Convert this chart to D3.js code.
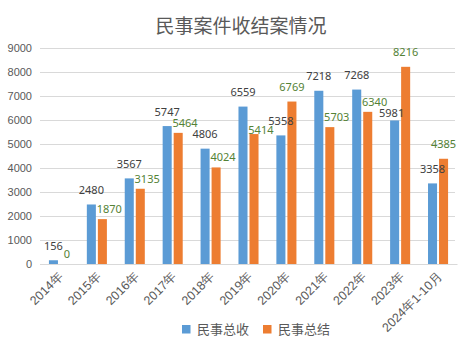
<!DOCTYPE html>
<html><head><meta charset="utf-8">
<script src="https://cdn.jsdelivr.net/npm/d3@7"></script>
<style>
html,body{margin:0;padding:0;background:#fff;}
svg{display:block;font-family:"Noto Sans","Noto Sans CJK SC",sans-serif;}
</style></head>
<body>
<svg id="chart" width="471" height="345"></svg>
<script>
const categories = ["2014年","2015年","2016年","2017年","2018年","2019年","2020年","2021年","2022年","2023年","2024年1-10月"];
const seriesNames = ["民事总收","民事总结"];
const received = [156,2480,3567,5747,4806,6559,5358,7218,7268,5981,3358];
const concluded = [0,1870,3135,5464,4024,5414,6769,5703,6340,8216,4385];
const yTicks = [0,1000,2000,3000,4000,5000,6000,7000,8000,9000];
const title = "民事案件收结案情况";

const colors = ["#5B9BD5","#ED7D31"];
const labelColors = ["#404040","#548235"];
const seriesData = [received, concluded];

const svg = d3.select("#chart");
const W = 471, H = 345;
svg.append("rect").attr("width",W).attr("height",H).attr("fill","#fff");

const y = d3.scaleLinear().domain([0,9000]).range([264,48]);
const x0 = d3.scaleBand().domain(categories).range([40,457]).paddingInner(0).paddingOuter(0);
const x1 = d3.scaleBand().domain(seriesNames).range([0,x0.bandwidth()]).paddingInner(0.18).paddingOuter(0.81);

// title
svg.append("text").attr("x",241).attr("y",33).attr("text-anchor","middle")
  .attr("font-size",19).attr("fill","#595959").attr("font-family","'Noto Sans CJK SC',sans-serif").text(title);

// gridlines
const yAxis = d3.axisLeft(y).tickValues(yTicks).tickSize(-(455-40)).tickPadding(8).tickFormat(d3.format("d"));
const gy = svg.append("g").attr("transform","translate(40,0)").call(yAxis);
gy.select(".domain").remove();
gy.selectAll(".tick line").attr("stroke","#d9d9d9").attr("stroke-width",1);
gy.selectAll(".tick text").attr("fill","#595959").attr("font-size",11).attr("x",-8);

// bars
seriesData.forEach((vals,si)=>{
  svg.append("g").selectAll("rect").data(vals).enter().append("rect")
    .attr("x",(d,i)=>x0(categories[i])+x1(seriesNames[si]))
    .attr("y",d=>y(d))
    .attr("width",x1.bandwidth())
    .attr("height",d=>y(0)-y(d))
    .attr("fill",colors[si]);
});

// data labels: simple placement with collision nudging
const FS = 11, CW = 6.2, HALF = 4.5;
const mkBox = (cx,cy,w,h)=>{ h = h||HALF; return {x0:cx-w/2,x1:cx+w/2,y0:cy-h,y1:cy+h}; };
const hit = (b,list)=>list.some(p => b.x0 < p.x1 && b.x1 > p.x0 && b.y0 < p.y1 && b.y1 > p.y0);

// 1. first series preferred positions
const blue = received.map((d,i)=>{
  const bx = x0(categories[i])+x1(seriesNames[0]);
  const w = String(d).length*CW;
  const cx = bx + x1.bandwidth()/2, cy = y(d) - 14.5;
  return {v:d, si:0, cx, cy, w, box:mkBox(cx,cy,w)};
});
// 2. second series initial positions
const orange = concluded.map((d,i)=>{
  const bx = x0(categories[i])+x1(seriesNames[1]);
  const w = String(d).length*CW;
  let cx = bx + x1.bandwidth()/2, cy = y(d) - 14.5;
  const side = d < received[i];
  if (side) {
    cx = bx - 1 + w/2; cy = y(d) - 10;
    if (hit(mkBox(cx,cy,w), [blue[i].box])) cx = blue[i].box.x1 + 1 + w/2;
  }
  return {v:d, si:1, cx, cy, w, side, box:mkBox(cx,cy,w)};
});
// 3. first-series labels nudged down-left if they hit a second-series label
const oBoxes = orange.map(o=>o.box);
blue.forEach(b=>{
  if (hit(b.box,oBoxes)) {
    let k = 1, ok = false;
    const nx = b.cx - 3;
    while (k <= 10) { if (!hit(mkBox(nx,b.cy+k,b.w,6),oBoxes)) { ok = true; break; } k++; }
    if (ok) { b.cx = nx; b.cy += k; b.box = mkBox(b.cx,b.cy,b.w); }
  }
});
// 4. second-series side labels nudged down if still colliding
const bBoxes = blue.map(b=>b.box);
orange.forEach(o=>{
  if (!o.side) return;
  let k = 0;
  while (k < 6 && hit(mkBox(o.cx,o.cy+k,o.w), bBoxes)) k++;
  o.cy += k; o.box = mkBox(o.cx,o.cy,o.w);
});

const labels = blue.concat(orange);
svg.append("g").selectAll("text").data(labels).enter().append("text")
  .attr("x",d=>d.cx).attr("y",d=>d.cy+4)
  .attr("text-anchor","middle")
  .attr("font-size",FS)
  .attr("fill",d=>labelColors[d.si])
  .text(d=>d.v);

// x axis
const xAxis = d3.axisBottom(x0).tickSize(0).tickPadding(0);
const gx = svg.append("g").attr("transform","translate(0,264)").call(xAxis);
gx.select(".domain").attr("stroke","#d9d9d9");
gx.selectAll(".tick text")
  .attr("fill","#595959").attr("font-size",12.5)
  .attr("text-anchor","end")
  .attr("dy",0).attr("y",0)
  .attr("transform","translate(5,13) rotate(-45)");

// legend
const legend = svg.append("g");
const lx = [182,263];
seriesNames.forEach((n,i)=>{
  legend.append("rect").attr("x",lx[i]).attr("y",325).attr("width",8.5).attr("height",8.5).attr("fill",colors[i]);
  legend.append("text").attr("x",lx[i]+15).attr("y",334).attr("font-size",13).attr("fill","#595959")
    .attr("font-family","'Noto Sans CJK SC',sans-serif").text(n);
});
</script>
</body></html>
